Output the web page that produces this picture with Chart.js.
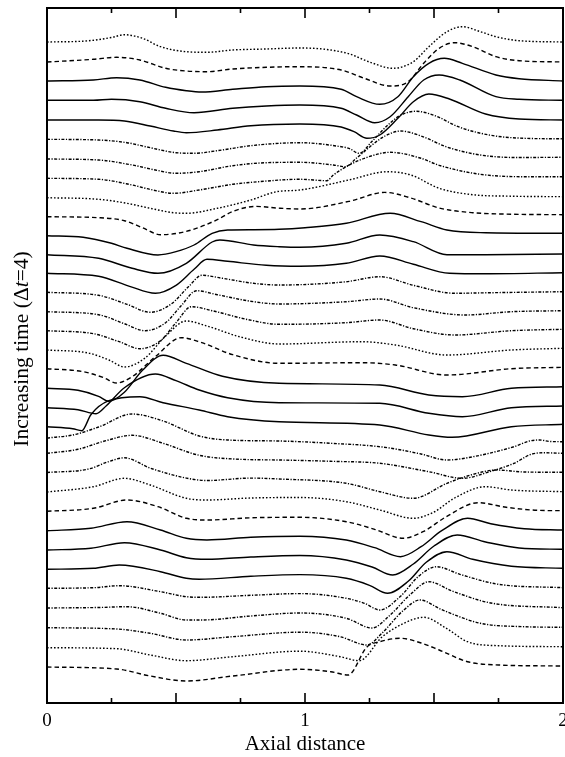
<!DOCTYPE html>
<html>
<head>
<meta charset="utf-8">
<script src="https://cdn.jsdelivr.net/npm/chart.js@4.4.1/dist/chart.umd.min.js"></script>
<style>
  html, body { margin: 0; padding: 0; background: #fff; }
  canvas { display: block; }
</style>
</head>
<body>
<canvas id="graph" width="565" height="757"></canvas>
<script>
// baseline level of every trace, latest (top) first
const levels = [661, 641, 622, 602.7, 583, 563.7, 544, 524.7, 505.3, 486.3, 467.3, 448.3, 429.7, 410.7, 391.3, 372.3, 353,
    334.3, 314.7, 295.3, 276.3, 262, 249.7, 230.5, 211, 191.7, 172.3, 153, 133.7, 114.7, 95, 75.3, 55.3, 36]

// [axial distance, displacement] for every trace, same order as levels
const profiles = [
    [[0,0],[0.15,1],[0.25,4.5],[0.3,7.3],[0.37,3.7],[0.44,-4.7],[0.54,-9.7],[0.62,-10.3],[0.72,-8],[0.85,-7],[0.98,-6],[1.16,-11],[1.26,-21],[1.34,-26.3],[1.42,-19.7],[1.48,-4.7],[1.55,10.3],[1.61,15.3],[1.68,10.3],[1.74,5.3],[1.83,1.3],[2,0]],
    [[0,0],[0.18,2.7],[0.27,4.7],[0.36,2],[0.46,-6.3],[0.54,-9],[0.62,-9.7],[0.72,-7],[0.85,-5.3],[0.98,-4.7],[1.14,-8],[1.23,-16.3],[1.33,-24],[1.4,-19.7],[1.46,-1.3],[1.52,13.7],[1.58,19.3],[1.65,15.3],[1.74,5.3],[1.83,1.3],[2,0]],
    [[0,0],[0.18,1],[0.27,3.3],[0.36,1],[0.46,-6.3],[0.54,-9.7],[0.6,-11],[0.72,-8.3],[0.85,-5.7],[0.98,-5],[1.14,-8.3],[1.2,-15.7],[1.29,-23.3],[1.36,-15.7],[1.42,4.3],[1.48,17.7],[1.54,22.7],[1.61,17.7],[1.74,6],[1.83,2.3],[2,0]],
    [[0,0],[0.18,0],[0.25,1],[0.36,-1.4],[0.46,-8],[0.57,-12.4],[0.72,-8],[0.85,-5.7],[0.98,-4.7],[1.14,-8],[1.2,-14.7],[1.27,-22.4],[1.33,-16.4],[1.4,3.6],[1.46,20.3],[1.52,25.3],[1.6,20.3],[1.74,3.6],[1.83,1],[2,0]],
    [[0,0],[0.2,0],[0.3,-1],[0.4,-6],[0.49,-11],[0.54,-12.7],[0.66,-10],[0.79,-5.7],[0.98,-4],[1.14,-7],[1.19,-11.7],[1.24,-18.3],[1.29,-15],[1.36,1.7],[1.42,18.3],[1.48,26],[1.56,21],[1.7,6],[1.83,1],[2,0]],
    [[0,0],[0.2,-0.7],[0.31,-3.4],[0.4,-8.4],[0.5,-13.4],[0.57,-14],[0.66,-11.4],[0.79,-6.4],[0.98,-3.4],[1.14,-7.4],[1.17,-9],[1.21,-14],[1.26,-2],[1.32,14],[1.37,24],[1.43,28],[1.5,24],[1.6,12],[1.72,4],[1.85,1],[2,0.5]],
    [[0,0],[0.2,-1],[0.33,-6],[0.42,-11],[0.5,-14.3],[0.59,-12.7],[0.72,-6.7],[0.85,-3.7],[0.98,-3.3],[1.11,-6],[1.155,-7.7],[1.2,1],[1.26,14],[1.31,23],[1.37,28],[1.45,23],[1.55,12],[1.68,4],[1.82,1.5],[2,1.7]],
    [[0,0],[0.2,-1],[0.33,-6.7],[0.41,-11.7],[0.49,-15],[0.59,-11.7],[0.72,-6],[0.82,-3.4],[0.98,-1],[1.085,-2.4],[1.11,3.3],[1.17,13],[1.23,20],[1.33,26],[1.45,20],[1.52,13],[1.68,4],[1.85,1.6],[2,1.6]],
    [[0,0],[0.2,-1.6],[0.31,-5.6],[0.4,-10.6],[0.49,-15],[0.54,-15.6],[0.66,-10.6],[0.79,-2.3],[0.89,6],[0.98,7.7],[1.17,17.7],[1.32,26],[1.41,22.7],[1.52,9.4],[1.65,3],[1.8,1.5],[2,1]],
    [[0,0],[0.2,-1],[0.3,-4],[0.37,-11],[0.44,-18],[0.54,-14.7],[0.66,-3],[0.72,5.3],[0.81,10.3],[0.89,8.7],[0.98,7.7],[1.17,15.3],[1.31,24.3],[1.41,18.7],[1.52,8.7],[1.65,4],[1.8,2.5],[2,2]],
    [[0,0],[0.14,-1.6],[0.25,-7.6],[0.31,-12.6],[0.43,-19.3],[0.5,-16],[0.57,-9.3],[0.64,2.4],[0.7,5.7],[0.8,6],[0.9,6.4],[1,8],[1.16,12.4],[1.33,22.4],[1.45,14],[1.55,5.7],[1.7,3],[2,2.4]],
    [[0,0],[0.2,-3.6],[0.33,-13.6],[0.43,-18.6],[0.54,-8.6],[0.64,12.7],[0.67,14.7],[0.8,9.7],[0.9,8],[0.98,7.4],[1.16,11.4],[1.29,19.7],[1.42,13],[1.55,0],[1.7,0],[2,0.7]],
    [[0,0],[0.2,-3],[0.32,-13],[0.42,-20],[0.5,-12],[0.57,4],[0.62,14],[0.7,12],[0.85,8],[0.98,7],[1.16,10],[1.29,17.3],[1.42,9],[1.56,0],[1.7,-0.5],[2,0.6]],
    [[0,0],[0.2,-3],[0.31,-12],[0.4,-20],[0.48,-12],[0.55,6],[0.6,17],[0.68,14],[0.8,9],[0.9,7.3],[1.16,10.6],[1.29,15.6],[1.42,7],[1.58,-1],[1.7,-0.5],[2,0.6]],
    [[0,0],[0.2,-3],[0.3,-12],[0.38,-19],[0.46,-11],[0.52,6],[0.58,21],[0.66,17],[0.8,10],[0.9,7.7],[1.16,10],[1.29,12.7],[1.42,4],[1.62,-3.3],[1.8,0],[2,1]],
    [[0,0],[0.18,-3],[0.28,-11],[0.36,-18],[0.44,-10],[0.5,8],[0.56,24],[0.64,20],[0.78,11],[0.9,6.4],[1.16,8],[1.29,10.7],[1.42,2],[1.58,-4.3],[1.8,0],[2,1.4]],
    [[0,0],[0.16,-3],[0.24,-10],[0.3,-17],[0.38,-8],[0.46,14],[0.54,29],[0.62,24],[0.75,13],[0.9,6],[1.22,8.3],[1.35,5],[1.55,-5],[1.8,0],[2,1.7]],
    [[0,0],[0.14,-3],[0.22,-9],[0.27,-14.3],[0.33,-8],[0.42,12],[0.52,31],[0.6,26],[0.72,14],[0.9,5.4],[1.22,6],[1.35,3.7],[1.55,-6.3],[1.8,0],[2,1.4]],
    [[0,0],[0.12,-2],[0.2,-8],[0.24,-13],[0.3,-4],[0.37,18],[0.45,33],[0.54,25],[0.68,12],[0.9,5],[1.29,3.3],[1.48,-6.7],[1.61,-8.4],[1.8,0],[2,1.6]],
    [[0,0],[0.12,-2],[0.19,-6],[0.23,2],[0.3,20],[0.42,33.7],[0.5,27],[0.59,17.7],[0.7,10],[0.9,5],[1.29,4.4],[1.48,-5.6],[1.61,-9],[1.8,0],[2,1.7]],
    [[0,0],[0.1,-2],[0.135,-4],[0.17,12],[0.24,26],[0.36,30],[0.45,24],[0.59,16.7],[0.7,10],[0.9,5],[1.29,1.7],[1.48,-8.3],[1.57,-10.6],[1.8,0],[2,2.4]],
    [[0,3],[0.1,6],[0.2,14],[0.33,27],[0.45,20],[0.59,5],[0.7,1],[0.9,0],[1.1,-2.3],[1.3,-6],[1.45,-13],[1.55,-19],[1.6,-18],[1.81,-5.7],[1.87,0],[1.91,1],[1.95,-0.5],[2,-0.7]],
    [[0,0],[0.12,4],[0.22,12],[0.33,18],[0.45,10],[0.59,-2],[0.75,-6],[0.9,-6.7],[1.1,-8],[1.29,-10],[1.48,-18.4],[1.61,-25],[1.72,-18],[1.81,-10],[1.88,-0.7],[1.93,0.5],[2,0]],
    [[0,0],[0.16,3.4],[0.24,11],[0.3,14.7],[0.4,4.4],[0.54,-5.6],[0.62,-8],[0.79,-5.6],[0.9,-6.5],[1.16,-10.8],[1.29,-19.2],[1.42,-25.8],[1.55,-10.8],[1.65,-2],[1.74,2.5],[1.85,0.5],[2,0.2]],
    [[0,0],[0.18,5.3],[0.3,13.7],[0.4,7],[0.54,-6.3],[0.62,-8],[0.79,-6],[0.98,-5.5],[1.16,-9.7],[1.29,-18],[1.42,-26.3],[1.5,-20],[1.58,-6],[1.7,5.3],[1.8,2],[2,0.3]],
    [[0,0],[0.18,3],[0.31,11.3],[0.43,4.6],[0.54,-7],[0.62,-8.7],[0.79,-6.5],[0.98,-6],[1.16,-10.4],[1.27,-18],[1.38,-27],[1.46,-20],[1.55,-5],[1.67,8.6],[1.78,4],[1.9,1],[2,0.6]],
    [[0,0],[0.17,2.4],[0.31,9],[0.44,0.7],[0.54,-7.6],[0.62,-9.3],[0.79,-6.6],[0.98,-5.5],[1.16,-9.3],[1.27,-17],[1.37,-26],[1.45,-16],[1.53,0],[1.63,12.4],[1.72,7],[1.85,2],[2,0.7]],
    [[0,0],[0.17,1.7],[0.3,7.3],[0.44,0],[0.54,-7.7],[0.62,-9.3],[0.79,-7],[0.98,-5.5],[1.16,-10],[1.26,-17],[1.34,-25],[1.42,-14],[1.5,4],[1.59,15],[1.7,8],[1.83,2],[2,0.7]],
    [[0,0],[0.18,1],[0.28,4.3],[0.44,-2.4],[0.54,-9],[0.59,-10],[0.79,-7],[0.98,-5.3],[1.16,-9],[1.25,-16],[1.32,-24],[1.4,-12],[1.47,7],[1.55,17.6],[1.65,10],[1.8,3],[2,1]],
    [[0,0],[0.18,0.6],[0.28,2.6],[0.44,-3.4],[0.54,-8.4],[0.6,-9],[0.79,-7],[0.98,-5.3],[1.16,-10],[1.23,-15],[1.29,-21.7],[1.37,-8],[1.44,12],[1.51,21.6],[1.6,14],[1.75,4],[2,0.6]],
    [[0,0],[0.2,0.5],[0.31,1.3],[0.44,-5.3],[0.54,-12],[0.6,-12],[0.79,-8],[0.98,-5],[1.16,-10.3],[1.26,-20],[1.33,-7],[1.41,14],[1.48,26.3],[1.57,17],[1.72,5],[2,0.3]],
    [[0,0],[0.27,-1.3],[0.4,-5.6],[0.54,-12.3],[0.72,-9],[0.98,-4.5],[1.136,-9],[1.24,-17.3],[1.3,-5],[1.38,17],[1.446,27.7],[1.53,18],[1.68,4.4],[1.85,1],[2,0.4]],
    [[0,0],[0.27,-1],[0.4,-7.3],[0.54,-13],[0.72,-9],[0.98,-3.5],[1.136,-9],[1.21,-13],[1.3,11],[1.38,24],[1.46,30.4],[1.55,19],[1.63,6],[1.75,2],[2,1]],
    [[0,0],[0.27,-2],[0.4,-9],[0.54,-14],[0.72,-9],[0.98,-2.3],[1.1,-4.7],[1.167,-8],[1.24,20],[1.29,25.3],[1.37,28.7],[1.45,24],[1.52,17],[1.63,5.3],[1.75,2],[2,1]]
]

const xLabels = [0, 1, 2]
const xMinorTicks = [0.25, 0.5, 0.75, 1, 1.25, 1.5, 1.75]

// dotted, dashed, three solid, three dash-dot, repeating from the top trace
const dashCycle = [[1.6, 1.9], [4.5, 3], [], [], [], [3, 1.5, 1.2, 1.5], [3, 1.5, 1.2, 1.5], [3, 1.5, 1.2, 1.5]]

let datasets = profiles.map((prof, i) => ({
    data: prof.map(p => ({x: p[0], y: levels[i] + p[1]})),
    borderColor: '#000',
    borderWidth: 1.4,
    borderDash: dashCycle[i % 8],
    pointRadius: 0,
    cubicInterpolationMode: 'monotone',
    fill: false
}))

// frame with inward ticks plus the y title (needs an italic t)
const framePlugin = {
    id: 'framePlugin',
    afterDraw(chart) {
        let {ctx, chartArea: a} = chart
        let xs = chart.scales.x
        ctx.save()
        ctx.strokeStyle = '#000'
        ctx.lineWidth = 2
        ctx.strokeRect(a.left, a.top, a.right - a.left, a.bottom - a.top)
        ctx.lineWidth = 1.6
        for (let v of xMinorTicks) {
            let px = xs.getPixelForValue(v)
            let len = v % 0.5 === 0 ? 10 : 5
            ctx.beginPath()
            ctx.moveTo(px, a.bottom)
            ctx.lineTo(px, a.bottom - len)
            ctx.moveTo(px, a.top)
            ctx.lineTo(px, a.top + len)
            ctx.stroke()
        }

        let parts = [['Increasing time (Δ', ''], ['t', 'italic '], ['=4)', '']]
        let total = 0
        for (let p of parts) {
            ctx.font = p[1] + '21.5px "Liberation Serif"'
            total += ctx.measureText(p[0]).width
        }
        ctx.translate(22, 349)
        ctx.rotate(-Math.PI / 2)
        ctx.fillStyle = '#000'
        ctx.textBaseline = 'middle'
        ctx.textAlign = 'left'
        let pos = -total / 2
        for (let p of parts) {
            ctx.font = p[1] + '21.5px "Liberation Serif"'
            ctx.fillText(p[0], pos, 0)
            pos += ctx.measureText(p[0]).width
        }
        ctx.restore()
    }
}

new Chart(document.getElementById('graph'), {
    type: 'line',
    data: {datasets: datasets},
    options: {
        responsive: false,
        animation: false,
        events: [],
        layout: {padding: {left: 47, right: 2, top: 8, bottom: 0}},
        plugins: {legend: {display: false}, tooltip: {enabled: false}},
        scales: {
            x: {
                type: 'linear',
                min: 0,
                max: 2,
                grid: {display: false, drawTicks: false},
                border: {display: false},
                ticks: {
                    stepSize: 1,
                    padding: 7,
                    color: '#000',
                    font: {family: 'Liberation Serif', size: 19},
                    callback: v => xLabels.includes(v) ? String(v) : ''
                },
                title: {
                    display: true,
                    text: 'Axial distance',
                    color: '#000',
                    padding: {top: 0, bottom: 0},
                    font: {family: 'Liberation Serif', size: 21}
                },
                afterFit: s => {
                    s.height = 54
                    s.paddingLeft = 0
                    s.paddingRight = 0
                }
            },
            y: {display: false, min: 0, max: 695}
        }
    },
    plugins: [framePlugin]
})
</script>
</body>
</html>
